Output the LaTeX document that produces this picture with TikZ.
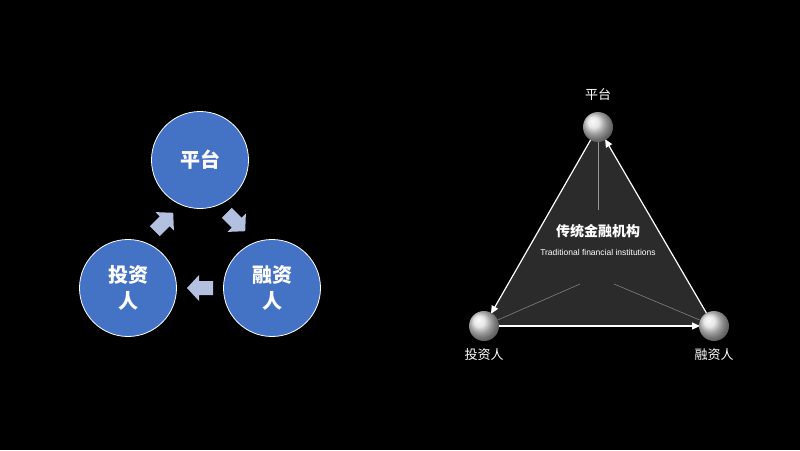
\documentclass[tikz,border=0pt]{standalone}
\usepackage{fontspec}
\newfontfamily\cjk{Noto Sans CJK SC}
\setmainfont{Liberation Sans}
\usetikzlibrary{shadings,arrows.meta}
\definecolor{bl}{HTML}{4472C4}
\definecolor{ar}{HTML}{B4C0E0}
\begin{document}
\begin{tikzpicture}[x=1pt,y=-1pt,
  bc/.style={circle,fill=bl,draw=white,line width=0.8pt,minimum size=97pt,inner sep=0pt,text=white,font=\cjk\bfseries\fontsize{20}{26}\selectfont,align=center},
  sp/.style={circle,minimum size=30pt,inner sep=0pt,shading=ball,ball color=white!75!gray},
  lb/.style={text=white,font=\cjk\fontsize{13}{15}\selectfont},
  ed/.style={white,line width=1.2pt,shorten >=14pt,-{Triangle[width=7pt,length=8pt]}}]
\fill[black] (0,0) rectangle (800,450);
\node[bc] (p) at (200,160) {平台};
\node[bc] (i) at (128,288) {投资\\人};
\node[bc] (f) at (272,288) {融资\\人};
\foreach \n/\x/\y/\r in {a1/236/222/-45, a2/200/288/180, a3/164/222/45}{
  \coordinate (\n) at (\x,\y);
  \fill[ar,shift={(\n)},rotate=\r] (-13,-7) -- (1,-7) -- (1,-13) -- (13,0) -- (1,13) -- (1,7) -- (-13,7) -- cycle;
}
% right
\coordinate (T) at (598,127);
\coordinate (L) at (484,326);
\coordinate (R) at (714,326);
\fill[black!83] (T) -- (L) -- (R) -- cycle;
\draw[white!60!black,line width=0.6pt] (598,140) -- (598,210);
\draw[white!50!black,line width=0.6pt] (L) -- (580,284);
\draw[white!50!black,line width=0.6pt] (R) -- (614,284);
\draw[ed] (R) -- (T);
\draw[ed] (T) -- (L);
\draw[ed] (L) -- (R);
\node[sp] (sT) at (T) {};
\node[sp] (sL) at (L) {};
\node[sp] (sR) at (R) {};
\node[lb] (lT) at (598,95) {平台};
\node[lb] (lL) at (484,355) {投资人};
\node[lb] (lR) at (714,355) {融资人};
\node[text=white,font=\cjk\bfseries\fontsize{14}{16}\selectfont] (t1) at (598,231) {传统金融机构};
\node[text=white,font=\fontsize{8.5}{10}\selectfont] (t2) at (598,252) {Traditional financial institutions};
\end{tikzpicture}
\end{document}
